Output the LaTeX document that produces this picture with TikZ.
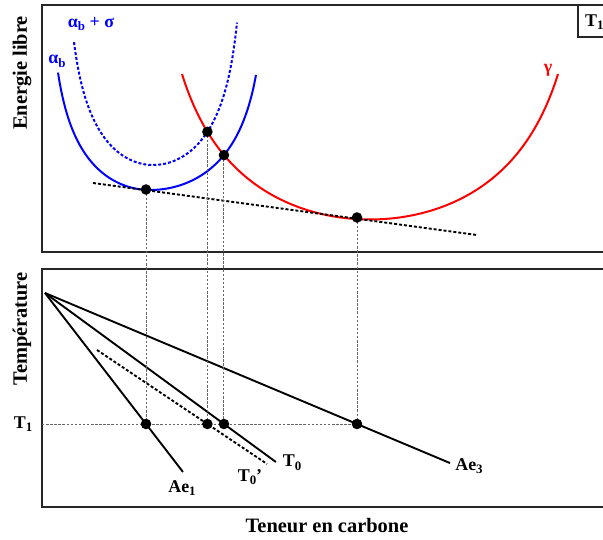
\documentclass[tikz,border=0pt]{standalone}
\usepackage{fontspec}
\setmainfont{Liberation Serif}
\usetikzlibrary{intersections,calc}
\newcommand\subx[1]{\raisebox{-0.45ex}{\scalebox{0.72}{#1}}}
\begin{document}
\begin{tikzpicture}[x=1bp,y=-1bp,
  boxline/.style={line width=1.4pt,draw=black!85},
  curveblue/.style={line width=2pt,draw=blue},
  curvebluedash/.style={line width=2pt,draw=blue,dash pattern=on 3pt off 2pt},
  curvered/.style={line width=2pt,draw=red},
  solidline/.style={line width=1.9pt,draw=black},
  dashline/.style={line width=1.9pt,draw=black,dash pattern=on 3pt off 2pt},
  guide/.style={line width=1pt,draw=black!60,dash pattern=on 2.5pt off 1.6pt},
  dotfill/.style={fill=black},
  axtitle/.style={font=\bfseries\fontsize{20.5}{24}\selectfont},
  lbl/.style={font=\bfseries\fontsize{18}{21}\selectfont,inner sep=0pt},
  glbl/.style={font=\bfseries\fontsize{18}{21}\selectfont,inner sep=0pt}]
\useasboundingbox (0,0) rectangle (603,540);

% frames
\draw[boxline] (42,5) rectangle (640,252);
\draw[boxline] (42,269) rectangle (640,507);
\draw[boxline] (578,5) rectangle (640,37);
\node[lbl,anchor=west] (t1box) at (585,22) {T\subx{1}};

% axis titles
\node[axtitle,rotate=90] (ytop) at (22,73) {Energie libre};
\node[axtitle,rotate=90] (ybot) at (22,329) {Température};
\node[axtitle] (xlab) at (327,526) {Teneur en carbone};

% free energy curves
\draw[curveblue,name path=ab]
  plot[domain=-92:0,samples=60,smooth] ({150+\x},{190+70*ln(1-(\x/102)^2)})
  -- plot[domain=0:106,samples=60,smooth] ({150+\x},{190+70*ln(1-(\x/118)^2)});
\draw[curvebluedash,name path=abs]
  plot[domain=-79:0,samples=60,smooth] ({153+\x},{165+75*ln(1-(\x/88)^2)})
  -- plot[domain=0:84,samples=60,smooth] ({153+\x},{165+75*ln(1-(\x/91)^2)});
\draw[curvered,name path=gam]
  plot[domain=-188:188,samples=120,smooth] ({370+\x},{219.5+111*ln(1-(\x/220)^2)});

\node[glbl,text=blue] (lab) at (57,61) {α\subx{b}};
\node[glbl,text=blue] (labs) at (91,24) {α\subx{b} + σ};
\node[glbl,text=red] (lg) at (548,70) {γ};

% tangent
\coordinate (tA) at (93,183);
\coordinate (tB) at (477,235);
\draw[dashline] (tA) -- (tB);

% points on the free-energy curves
\coordinate (p1) at (146,189.5);
\path[name intersections={of=abs and gam,name=i}] coordinate (p2) at (i-1);
\path[name intersections={of=ab and gam,name=j}] coordinate (p3) at (j-1);
\coordinate (p4) at (357,217.5);

% T1 level
\coordinate (T1l) at (42,424);
\coordinate (q1) at (p1 |- T1l);
\coordinate (q2) at (p2 |- T1l);
\coordinate (q3) at (p3 |- T1l);
\coordinate (q4) at (p4 |- T1l);

% lower panel lines
\coordinate (O) at (45,293);
\coordinate (s0) at (97,350);
\draw[solidline] (O) -- ($(O)!1.366!(q1)$) coordinate (e1);
\draw[solidline] (O) -- ($(O)!1.29!(q3)$) coordinate (e0);
\draw[solidline] (O) -- ($(O)!1.298!(q4)$) coordinate (e3);
\draw[dashline] (s0) -- ($(s0)!1.54!(q2)$) coordinate (f0);

\draw[guide] (p1) -- (q1);
\draw[guide] (p2) -- (q2);
\draw[guide] (p3) -- (q3);
\draw[guide] (p4) -- (q4);
\draw[guide] (T1l) -- (q4);

% dots
\foreach \n in {p1,p2,p3,p4,q1,q2,q3,q4} {\fill[dotfill] (\n) circle (5.3pt);}

% labels
\node[lbl] (lT1) at (23,424) {T\subx{1}};
\node[lbl] (lAe1) at (182,488) {Ae\subx{1}};
\node[lbl] (lT0p) at (250,477) {T\subx{0}’};
\node[lbl] (lT0) at (292,463) {T\subx{0}};
\node[lbl] (lAe3) at (469,466) {Ae\subx{3}};
\end{tikzpicture}
\end{document}
